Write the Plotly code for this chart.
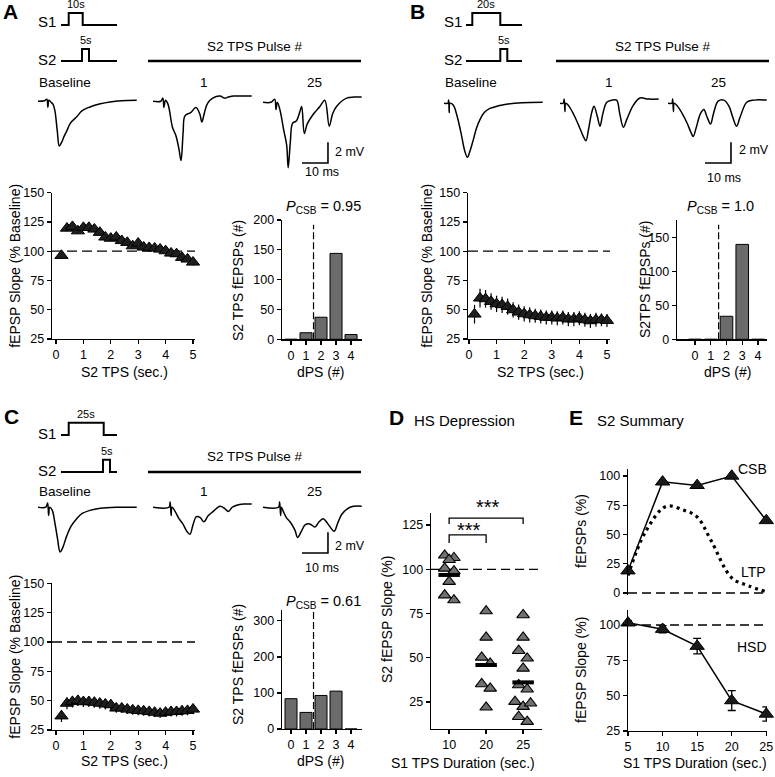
import plotly.graph_objects as go

W, H = 775, 777
FONT = "Liberation Sans, Arial, Helvetica, sans-serif"

# ======================= DATA =======================
tps_sec = [0.2, 0.4, 0.6, 0.8, 1.0, 1.2, 1.4, 1.6, 1.8, 2.0, 2.2, 2.4, 2.6, 2.8, 3.0,
           3.2, 3.4, 3.6, 3.8, 4.0, 4.2, 4.4, 4.6, 4.8, 5.0]
tps_ticks = [0, 1, 2, 3, 4, 5]
slope_ticks = [25, 50, 75, 100, 125, 150]

a_slope = [96.3, 119.6, 121.0, 117.3, 120.2, 120.2, 118.8, 116.0, 112.0, 111.0, 112.0, 109.0,
           107.4, 104.5, 106.8, 103.4, 103.0, 102.6, 101.7, 100.3, 98.3, 97.7, 94.6, 93.2, 90.6]
a_err = [3.0, 2.5, 2.5, 2.5, 2.5, 2.5, 2.5, 2.5, 2.5, 2.5, 2.5, 2.5,
         2.5, 2.5, 2.5, 2.5, 2.5, 2.5, 2.5, 2.5, 2.5, 2.5, 2.5, 2.5, 2.5]
b_slope = [46.2, 59.9, 59.3, 57.0, 55.0, 54.2, 52.7, 49.9, 47.9, 46.5, 45.6, 44.8,
           44.2, 43.4, 43.4, 42.8, 43.4, 42.0, 42.0, 42.8, 41.4, 40.5, 41.4, 41.4, 40.8]
b_err = [8.0, 8.0, 7.5, 7.0, 7.0, 7.0, 7.0, 6.5, 6.5, 6.5, 6.5, 6.0,
         6.0, 6.0, 6.0, 6.0, 6.0, 6.0, 6.0, 6.0, 6.0, 6.0, 6.0, 5.5, 5.5]
c_slope = [36.9, 47.7, 49.1, 50.0, 49.0, 49.0, 48.5, 47.7, 47.0, 46.4, 43.6, 43.6,
           42.7, 42.0, 41.5, 41.2, 40.6, 40.0, 39.2, 40.0, 40.6, 40.6, 41.2, 41.5, 42.7]
c_err = [5.0, 5.0, 5.0, 4.5, 4.5, 4.5, 4.5, 4.5, 4.5, 4.5, 4.0, 4.0,
         4.0, 4.0, 4.0, 4.0, 4.0, 4.0, 4.0, 4.0, 4.0, 4.0, 4.0, 4.0, 4.0]

dps_bins = [0, 1, 2, 3, 4]
a_counts = [0, 11, 37, 144, 8]
b_counts = [0, 0, 34, 140, 0]
c_counts = [84, 46, 93, 105, 0]
a_count_ticks = [0, 50, 100, 150, 200]
b_count_ticks = [0, 50, 100, 150]
c_count_ticks = [0, 100, 200, 300]
csb_cut = 1.5
a_pcsb, b_pcsb, c_pcsb = "0.95", "1.0", "0.61"

# stimulation protocol (s)
protocol_span = [0, 40]
a_s1_pulse, a_s2_pulse = [5.5, 15.5], [15.0, 20.0]
b_s1_pulse, b_s2_pulse = [4.5, 24.5], [24.5, 29.5]
c_s1_pulse, c_s2_pulse = [5.5, 30.5], [30.0, 35.0]
a_s1_label, b_s1_label, c_s1_label, s2_label = "10s", "20s", "25s", "5s"

# example fEPSP waveforms: time (ms), voltage (mV)
a_base_t = [0, 2.5, 3.4, 3.8, 4.2, 5.0, 5.8, 6.5, 7.4, 8.2, 9.0, 10.0, 11.0, 12.5, 14.9, 17.0, 20.0, 24.0, 27.7, 32.0, 38.0]
a_base_v = [0, 0.05, 0.2, -0.6, 0.1, -0.1, -0.3, -0.9, -2.8, -4.3, -4.0, -3.4, -2.9, -2.1, -1.5, -0.9, -0.55, -0.25, -0.07, 0.05, 0.1]
a_p1_t = [0, 3.0, 3.8, 4.2, 4.8, 5.8, 7.5, 8.8, 10.0, 10.8, 11.6, 12.3, 14.5, 16.5, 18.0, 18.8, 19.8, 21.0, 23.0, 25.8, 27.5, 29.0, 31.0, 35.0, 38.0]
a_p1_v = [0, 0, 0.3, -0.6, 0.1, -0.3, -2.5, -3.3, -4.6, -5.7, -3.0, -1.4, -1.1, -0.6, -1.2, -2.0, -1.1, -0.2, 0.3, 0.5, 0.3, 0.4, 0.5, 0.5, 0.5]
a_p25_t = [0, 3.0, 4.5, 5.0, 5.5, 6.5, 8.0, 9.1, 9.7, 10.5, 11.4, 12.8, 14.2, 14.9, 15.9, 17.0, 19.5, 21.9, 23.8, 25.5, 26.8, 28.3, 32.2, 35.0, 38.0]
a_p25_v = [-0.1, -0.1, 0.2, -0.8, -0.1, -0.8, -2.8, -4.2, -6.4, -4.0, -2.1, -1.9, -1.0, -0.5, -3.1, -2.2, -1.2, -0.5, 0.1, -2.4, -1.2, -0.5, 0.3, 0.4, 0.4]

b_base_t = [0, 1.5, 1.8, 2.0, 2.3, 3.6, 5.0, 6.5, 8.0, 9.0, 10.0, 11.3, 12.5, 13.8, 15.5, 17.7, 21.0, 24.0, 30.0, 38.0]
b_base_v = [0, 0, 0.3, -0.9, 0, -0.2, -1.2, -2.8, -4.6, -5.2, -4.6, -3.5, -2.4, -1.6, -0.9, -0.5, -0.25, -0.1, 0.05, 0.1]
b_p1_t = [0, 1.2, 1.6, 1.9, 2.2, 3.5, 5.5, 7.5, 9.0, 10.0, 11.0, 12.2, 13.1, 14.3, 15.4, 16.5, 18.0, 20.0, 21.8, 23.0, 24.4, 25.8, 28.2, 30.8, 34.0, 38.0]
b_p1_v = [0, 0, 0.4, -0.8, 0, -0.3, -1.2, -2.3, -3.2, -3.6, -2.5, -0.9, -0.3, -1.2, -2.2, -1.0, 0.1, 0.3, 0.3, -1.0, -2.3, -1.5, -0.2, 0.5, 0.4, 0.4]
b_p25_t = [0, 1.5, 1.8, 2.1, 2.4, 3.7, 5.5, 7.5, 9.0, 9.7, 10.8, 12.5, 13.8, 15.0, 16.4, 17.5, 19.3, 21.5, 23.5, 25.0, 26.4, 27.8, 30.3, 33.0, 38.0]
b_p25_v = [0, 0, 0.4, -0.8, 0, -0.3, -1.0, -2.0, -2.9, -3.2, -2.4, -1.0, -0.6, -1.3, -2.0, -1.0, 0.2, 0.3, -0.3, -1.4, -2.2, -1.3, 0.1, 0.3, 0.3]

c_base_t = [0, 3.0, 3.7, 4.1, 4.5, 5.5, 6.5, 7.5, 8.5, 9.5, 11.0, 12.8, 14.9, 17.0, 20.0, 24.0, 30.0, 38.0]
c_base_v = [0, 0, 0.4, -0.8, 0, -0.3, -1.5, -3.0, -4.3, -3.9, -2.8, -1.8, -1.1, -0.6, -0.3, -0.1, 0, 0]
c_p1_t = [0, 6.2, 6.6, 7.0, 7.3, 8.5, 10.0, 11.5, 13.0, 14.2, 15.5, 16.7, 18.2, 19.6, 21.3, 23.2, 25.8, 27.5, 29.0, 30.5, 32.2, 35.0, 38.0]
c_p1_v = [0, 0, 0.5, -0.8, 0, -0.4, -1.1, -1.6, -2.3, -2.6, -1.6, -0.9, -1.0, -1.4, -0.8, -0.4, 0.1, -0.1, -0.4, 0, 0.2, 0.3, 0.3]
c_p25_t = [0, 6.0, 6.4, 6.8, 7.1, 7.8, 9.0, 10.4, 12.3, 13.3, 14.8, 16.2, 18.0, 20.0, 21.6, 23.2, 25.0, 27.4, 28.8, 30.3, 33.5, 38.0]
c_p25_v = [0, 0, 0.5, -0.8, 0, -0.4, -1.0, -1.4, -2.2, -2.9, -2.3, -1.7, -1.6, -1.9, -1.4, -1.1, -1.6, -2.3, -1.5, -0.7, 0, 0.1]
trace_names = ["Baseline", "1", "25"]
scalebar_ms, scalebar_mv = 10, 2

# D: HS depression
d_groups = ["10", "20", "25"]
d_10_vals = [107.9, 106.5, 105.4, 100.5, 99.0, 93.0, 85.4, 82.6]
d_10_jit = [-0.12, 0.13, 0.0, -0.12, 0.13, 0.0, -0.12, 0.13]
d_20_vals = [76.4, 61.5, 50.2, 46.8, 35.2, 32.7, 22.0]
d_20_jit = [0.0, 0.0, -0.12, 0.11, -0.12, 0.11, 0.0]
d_25_vals = [74.2, 61.5, 54.0, 49.7, 44.0, 34.6, 32.2, 25.2, 22.4, 24.3, 16.7, 13.9]
d_25_jit = [0.0, 0.0, -0.12, 0.11, 0.0, -0.12, 0.11, -0.22, 0.0, 0.2, -0.12, 0.11]
d_means = [96.8, 45.9, 36.1]
d_ticks = [25, 50, 75, 100, 125]

# E: S2 summary
e_dur = [5, 10, 15, 20, 25]
e_csb = [19, 95, 92, 100, 62]
e_ltp_x = [5, 7.5, 10.5, 13, 15, 17, 20, 22.5, 25]
e_ltp_y = [15, 52, 74, 71, 65, 45, 13, 6, 1]
e_hsd = [101.5, 97, 85, 46.5, 37]
e_hsd_err = [1.5, 2.5, 5.5, 7, 5]
e_top_ticks = [0, 25, 50, 75, 100]
e_bot_ticks = [25, 50, 75, 100]

# ======================= FIGURE =======================
layout = dict(width=W, height=H, margin=dict(l=0, r=0, t=0, b=0, pad=0, autoexpand=False),
              paper_bgcolor="white", plot_bgcolor="rgba(0,0,0,0)", showlegend=False,
              font=dict(family=FONT, color="black"))
traces, annotations, shapes = [], [], []
count = [0]


def new_axes(x0, x1, ytop, ybot, xr, yr, visible=True, xkw=None, ykw=None):
    count[0] += 1
    k = count[0]
    s = "" if k == 1 else str(k)
    base = dict(showgrid=False, zeroline=False, showline=True, linecolor="black", linewidth=1.3,
                ticks="outside", ticklen=4, tickwidth=1.3, tickcolor="black", automargin=False,
                tickfont=dict(family=FONT, size=12.5, color="black"), fixedrange=True)
    xa = dict(base, domain=[x0 / W, x1 / W], range=xr, anchor="y" + s)
    ya = dict(base, domain=[1 - ybot / H, 1 - ytop / H], range=yr, anchor="x" + s)
    if not visible:
        xa["visible"] = False
        ya["visible"] = False
    if xkw:
        xa.update(xkw)
    if ykw:
        ya.update(ykw)
    layout["xaxis" + s] = xa
    layout["yaxis" + s] = ya
    return "x" + s, "y" + s


def text(s, x, y, size=13.5, xanchor="center", angle=0, yanchor="middle"):
    annotations.append(dict(text=s, x=x / W, y=1 - y / H, xref="paper", yref="paper",
                            showarrow=False, xanchor=xanchor, yanchor=yanchor, textangle=angle,
                            font=dict(family=FONT, size=size, color="black")))


def line(ax, x, y, width=1.5, dash="solid", shape="linear", color="black"):
    traces.append(go.Scatter(x=x, y=y, mode="lines", xaxis=ax[0], yaxis=ax[1],
                             line=dict(color=color, width=width, dash=dash, shape=shape),
                             hoverinfo="skip"))


PXMS = 100 / 38.5
PXMV = 77 / 7.4
SCHED_YR = [-0.2, 4.3]


def panel(letter, letter_xy, sched_x, sched_y, s1, s2, s1_lab, lab_x, s_y,
          header_cx, header_y, header_line, trace_x, trace_ytop, waves, names_xy,
          sb_origin, mv_xy, ms_xy,
          ts_x, ts_y, ts_xr, slope, err, ts_ytitle_x, ts_xtitle_xy,
          h_x, h_y, h_xr, h_yr, h_ticks, counts, cut_top, pcsb, pcsb_xy,
          h_ytitle, h_ytitle_xy, h_xtitle_xy):
    text("<b>%s</b>" % letter, letter_xy[0], letter_xy[1], size=21)
    # protocol schematic
    sax = new_axes(sched_x[0], sched_x[1], sched_y[0], sched_y[1], protocol_span, SCHED_YR, visible=False)
    for pulse, lo, lab in ((s1, 3, s1_lab), (s2, 0, s2_label)):
        xs = [protocol_span[0], pulse[0], pulse[0], pulse[1], pulse[1], protocol_span[1]]
        ys = [lo, lo, lo + 1, lo + 1, lo, lo]
        line(sax, xs, ys, width=2)
        # duration label just above the pulse (pixel position from the schematic's scale)
        cx = sched_x[0] + ((pulse[0] + pulse[1]) / 2 - protocol_span[0]) / (protocol_span[1] - protocol_span[0]) * (sched_x[1] - sched_x[0])
        ty = sched_y[1] - (lo + 1 - SCHED_YR[0]) / (SCHED_YR[1] - SCHED_YR[0]) * (sched_y[1] - sched_y[0])
        text(lab, cx, ty - 1, size=11, yanchor="bottom")
    text("S1", lab_x, s_y[0], size=15)
    text("S2", lab_x, s_y[1], size=15)
    text("S2 TPS Pulse #", header_cx, header_y, size=13.5)
    shapes.append(dict(type="line", xref="paper", yref="paper", x0=header_line[0] / W, x1=header_line[1] / W,
                       y0=1 - header_line[2] / H, y1=1 - header_line[2] / H, line=dict(color="black", width=2.6)))
    # waveforms
    for (tx, tv), x0, nm, nxy in zip(waves, trace_x, trace_names, names_xy):
        wax = new_axes(x0, x0 + 100, trace_ytop, trace_ytop + 77, [0, 38.5], [-6.8, 0.6], visible=False)
        line(wax, tx, tv, width=1.5, shape="spline")
        text(nm, nxy[0], nxy[1], size=13.5)
    # scale bar
    ox, oy = sb_origin
    sbax = new_axes(ox - PXMS, ox + 11 * PXMS, oy - 2.3 * PXMV, oy + 0.3 * PXMV, [-1, 11], [-0.3, 2.3], visible=False)
    line(sbax, [0, scalebar_ms, scalebar_ms], [0, 0, scalebar_mv], width=1.6)
    text("%d mV" % scalebar_mv, mv_xy[0], mv_xy[1], size=12.5, xanchor="left")
    text("%d ms" % scalebar_ms, ms_xy[0], ms_xy[1], size=12.5)
    # time series
    tax = new_axes(ts_x[0], ts_x[1], ts_y[0], ts_y[1], ts_xr, [25, 150],
                   xkw=dict(tickvals=tps_ticks), ykw=dict(tickvals=slope_ticks))
    line(tax, ts_xr, [100, 100], width=1.3, dash="10px,5px")
    traces.append(go.Scatter(x=tps_sec, y=slope, mode="markers", xaxis=tax[0], yaxis=tax[1], cliponaxis=False,
                             error_y=dict(type="data", array=err, color="black", thickness=1.2, width=0),
                             marker=dict(symbol="triangle-up", size=11.5, color="#1e1e1e",
                                         line=dict(color="black", width=1))))
    text("fEPSP Slope (% Baseline)", ts_ytitle_x, (ts_y[0] + ts_y[1]) / 2, size=14, angle=-90)
    text("S2 TPS (sec.)", ts_xtitle_xy[0], ts_xtitle_xy[1], size=14)
    # histogram
    hax = new_axes(h_x[0], h_x[1], h_y[0], h_y[1], h_xr, h_yr,
                   xkw=dict(tickvals=dps_bins), ykw=dict(tickvals=h_ticks))
    traces.append(go.Bar(x=dps_bins, y=counts, width=0.8, xaxis=hax[0], yaxis=hax[1],
                         marker=dict(color="#6b6b6b", line=dict(color="black", width=1))))
    line(hax, [csb_cut, csb_cut], [0, cut_top], width=1.2, dash="7px,3px")
    text("<i>P</i><sub>CSB</sub> = %s" % pcsb, pcsb_xy[0], pcsb_xy[1], size=14.5)
    text(h_ytitle, h_ytitle_xy[0], h_ytitle_xy[1], size=14, angle=-90)
    text("dPS (#)", h_xtitle_xy[0], h_xtitle_xy[1], size=14)


panel("A", (10, 12), (61, 117), (9.4, 63.4), a_s1_pulse, a_s2_pulse, a_s1_label, 47, (22, 59),
      255, 47, (148, 361, 61), (38, 153, 263), 95,
      [(a_base_t, a_base_v), (a_p1_t, a_p1_v), (a_p25_t, a_p25_v)], [(65, 83), (204, 83), (314, 83)],
      (302, 163), (333, 152), (322, 172),
      (52, 195), (192.7, 339), [-0.146, 5.073], a_slope, a_err, 15, (124, 372),
      (282, 362), (220, 339.3), [-0.6, 4.73], [0, 200], a_count_ticks, a_counts, 192, a_pcsb, (323, 207),
      "S2 TPS fEPSPs (#)", (238, 280), (320, 372))

panel("B", (418, 12), (466, 522), (9.4, 63.4), b_s1_pulse, b_s2_pulse, b_s1_label, 453, (22, 59),
      663, 47, (556, 769, 61), (444, 560, 668), 97,
      [(b_base_t, b_base_v), (b_p1_t, b_p1_v), (b_p25_t, b_p25_v)], [(471, 83), (609, 83), (718, 83)],
      (705, 163), (737, 150), (724, 178),
      (468, 610), (192.7, 339), [-0.036, 5.11], b_slope, b_err, 427, (540, 372),
      (677, 767), (220, 339.3), [-1.14, 4.57], [0, 176], b_count_ticks, b_counts, 169, b_pcsb, (720, 207),
      "S2TPS fEPSPs (#)", (645, 280), (727, 372))

panel("C", (11, 416), (61, 117), (419, 474.5), c_s1_pulse, c_s2_pulse, c_s1_label, 47, (434, 470),
      255, 456, (148, 361, 472), (38, 153, 263), 501,
      [(c_base_t, c_base_v), (c_p1_t, c_p1_v), (c_p25_t, c_p25_v)], [(65, 491), (204, 491), (314, 491)],
      (302, 553), (333, 546), (322, 568),
      (52, 195), (583.3, 730), [-0.146, 5.073], c_slope, c_err, 15, (124, 761),
      (282, 362), (610, 729), [-0.6, 4.73], [0, 330], c_count_ticks, c_counts, 330, c_pcsb, (323, 602),
      "S2 TPS fEPSPs (#)", (238, 664), (320, 761))

# ---------- D ----------
text("<b>D</b>", 396, 417, size=21)
text("HS Depression", 464, 420, size=15)
dax = new_axes(431, 542, 513, 729, [-0.49, 2.51], [9.75, 131.8],
               xkw=dict(tickvals=[0, 1, 2], ticktext=d_groups), ykw=dict(tickvals=d_ticks))
line(dax, [-0.49, 2.51], [100, 100], width=1.3, dash="9px,5px")
for i, (vals, jit) in enumerate(((d_10_vals, d_10_jit), (d_20_vals, d_20_jit), (d_25_vals, d_25_jit))):
    traces.append(go.Scatter(x=[i + j for j in jit], y=vals, mode="markers", xaxis=dax[0], yaxis=dax[1],
                             cliponaxis=False,
                             marker=dict(symbol="triangle-up", size=11, color="#707070",
                                         line=dict(color="black", width=1.1))))
for i, m in enumerate(d_means):
    line(dax, [i - 0.29, i + 0.29], [m, m], width=4)
# significance brackets
for g, ytop, ydrop, shift in ((2, 128.96, 125.6, 11), (1, 119.4, 114.8, 5)):
    line(dax, [0, 0, g, g], [ydrop, ytop, ytop, ydrop], width=1.3)
    annotations.append(dict(text="***", x=g / 2 + 0.05, y=ytop, xref=dax[0], yref=dax[1], showarrow=False,
                            yanchor="middle", yshift=shift, font=dict(family=FONT, size=20, color="black")))
text("S2 fEPSP Slope (%)", 387, 620, size=14, angle=-90)
text("S1 TPS Duration (sec.)", 463, 763, size=14)

# ---------- E ----------
text("<b>E</b>", 576, 417, size=21)
text("S2 Summary", 640, 420, size=15)
etop = new_axes(628, 767, 469, 595, [5, 25.1], [-1.7, 106], xkw=dict(visible=False),
                ykw=dict(tickvals=e_top_ticks))
line(etop, [5, 25], [0, 0], width=1.3, dash="9px,5px")
line(etop, e_ltp_x, e_ltp_y, width=3.2, dash="3px,4px", shape="spline")
traces.append(go.Scatter(x=e_dur, y=e_csb, mode="lines+markers", xaxis=etop[0], yaxis=etop[1], cliponaxis=False,
                         line=dict(color="black", width=1.5),
                         marker=dict(symbol="triangle-up", size=12.5, color="#1a1a1a",
                                     line=dict(color="black", width=1))))
ebot = new_axes(628, 767, 610, 731, [5, 25.1], [25, 110.6],
                xkw=dict(tickvals=e_dur), ykw=dict(tickvals=e_bot_ticks))
line(ebot, [5, 25], [100, 100], width=1.3, dash="9px,5px")
traces.append(go.Scatter(x=e_dur, y=e_hsd, mode="lines+markers", xaxis=ebot[0], yaxis=ebot[1], cliponaxis=False,
                         error_y=dict(type="data", array=e_hsd_err, color="black", thickness=1.3, width=4),
                         line=dict(color="black", width=1.5),
                         marker=dict(symbol="triangle-up", size=12.5, color="#1a1a1a",
                                     line=dict(color="black", width=1))))
text("CSB", 752, 469, size=14)
text("LTP", 753, 572, size=14)
text("HSD", 752, 647, size=14)
text("fEPSPs (%)", 581, 531, size=14, angle=-90)
text("fEPSP Slope (%)", 581, 670, size=14, angle=-90)
text("S1 TPS Duration (sec.)", 695, 763, size=14)

layout["annotations"] = annotations
layout["shapes"] = shapes
fig = go.Figure(data=traces, layout=layout)
fig.write_html("out.html", config={"displayModeBar": False, "staticPlot": True},
               post_script="document.body.style.margin='0';document.body.style.overflow='hidden';")
